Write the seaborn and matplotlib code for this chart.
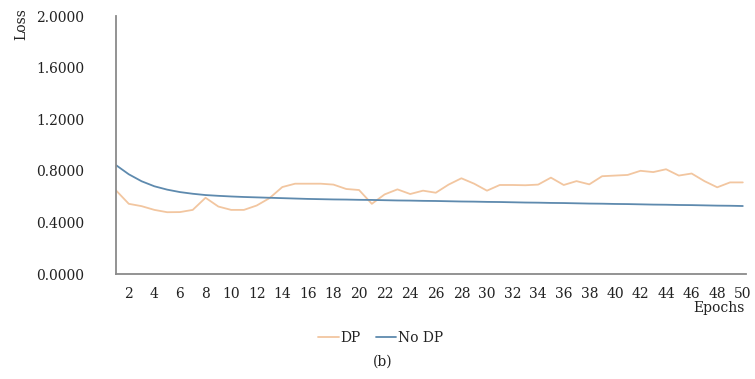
import matplotlib
matplotlib.use("Agg")
import matplotlib.pyplot as plt
import pandas as pd
import seaborn as sns

# ---- data ----
epochs = list(range(1, 51))
dp_loss = [0.648, 0.544, 0.526, 0.497, 0.479, 0.480, 0.497, 0.591, 0.523, 0.497,
           0.497, 0.531, 0.588, 0.674, 0.700, 0.700, 0.700, 0.693, 0.659, 0.651,
           0.544, 0.617, 0.656, 0.620, 0.646, 0.630, 0.693, 0.742, 0.700, 0.646,
           0.690, 0.690, 0.688, 0.693, 0.747, 0.690, 0.720, 0.695, 0.758, 0.763,
           0.768, 0.800, 0.790, 0.812, 0.763, 0.779, 0.720, 0.672, 0.710, 0.710]
no_dp_loss = [0.844, 0.773, 0.719, 0.680, 0.654, 0.635, 0.622, 0.612, 0.606, 0.601,
              0.597, 0.594, 0.591, 0.588, 0.585, 0.582, 0.580, 0.578, 0.577, 0.575,
              0.574, 0.572, 0.570, 0.569, 0.567, 0.566, 0.564, 0.562, 0.561, 0.559,
              0.558, 0.556, 0.554, 0.553, 0.551, 0.550, 0.548, 0.546, 0.545, 0.543,
              0.542, 0.540, 0.538, 0.537, 0.535, 0.534, 0.532, 0.530, 0.529, 0.527]
series_names = ["DP", "No DP"]
y_ticks = [0.0, 0.4, 0.8, 1.2, 1.6, 2.0]
x_ticks = list(range(2, 51, 2))

sns.set_style("white")
plt.rcParams['font.family'] = ['DejaVu Serif']

W, H = 755, 379
fig = plt.figure(figsize=(W / 100, H / 100), dpi=100)
ax = fig.add_axes([116 / W, 1 - 274 / H, (746 - 116) / W, (274 - 16) / H])

df = pd.DataFrame({
    "Epoch": epochs * 2,
    "Loss": dp_loss + no_dp_loss,
    "Series": [series_names[0]] * len(dp_loss) + [series_names[1]] * len(no_dp_loss),
})
palette = {"DP": "#F2C6A0", "No DP": "#5E8AAE"}
sns.lineplot(data=df, x="Epoch", y="Loss", hue="Series", palette=palette,
             linewidth=1.3, ax=ax)

ax.set_xlim(1, 50.25)
ax.set_ylim(0, 2.0)
ax.set_yticks(y_ticks)
ax.set_yticklabels([f"{v:.4f}" for v in y_ticks])
ax.set_xticks(x_ticks)
ax.set_xticklabels([str(t) for t in x_ticks])
ax.tick_params(axis='y', length=0, pad=23, labelsize=10, labelcolor='#222222')
ax.tick_params(axis='x', length=0, pad=9, labelsize=10, labelcolor='#222222')
for s in ['top', 'right']:
    ax.spines[s].set_visible(False)
for s in ['left', 'bottom']:
    ax.spines[s].set_color('#8a8a8a')
    ax.spines[s].set_linewidth(1.3)
ax.set_xlabel("")
ax.set_ylabel("")

fig.text(21 / W, 1 - 24 / H, "Loss", rotation=90, ha='center', va='center',
         fontsize=10, color='#222222')
fig.text(745 / W, 1 - 308 / H, "Epochs", ha='right', va='center',
         fontsize=10, color='#222222')

sns.move_legend(ax, "center", bbox_to_anchor=(381 / W, 1 - 338 / H),
                bbox_transform=fig.transFigure, ncol=2, frameon=False, title=None,
                handlelength=1.45, handletextpad=0.15, columnspacing=1.1,
                fontsize=10)
for t in ax.get_legend().get_texts():
    t.set_color('#222222')

fig.text(383 / W, 1 - 362 / H, "(b)", ha='center', va='center', fontsize=10,
         color='#222222')

fig.savefig("out.png", dpi=100)
